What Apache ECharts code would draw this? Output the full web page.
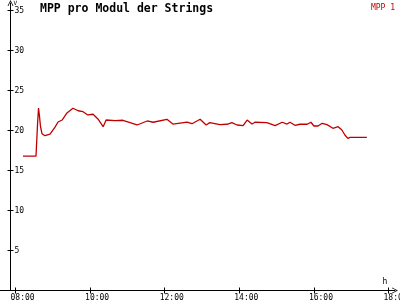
<!DOCTYPE html>
<html><head><meta charset="utf-8">
<script src="https://cdn.jsdelivr.net/npm/echarts@6/dist/echarts.min.js"></script>
<style>html,body{margin:0;padding:0;background:#fff}#c{width:400px;height:300px}</style>
</head><body><div id="c"></div>
<script>
// time in hours of day
var times = [8.20,8.55,8.568,8.59,8.617,8.643,8.67,8.71,8.79,8.925,9.06,9.14,9.25,9.38,9.54,9.68,9.81,9.94,10.08,10.21,10.35,10.43,10.67,10.88,11.26,11.53,11.69,12.06,12.22,12.60,12.73,12.95,13.11,13.21,13.48,13.67,13.80,13.94,14.10,14.21,14.34,14.42,14.74,14.96,15.15,15.28,15.36,15.49,15.63,15.82,15.92,16.00,16.11,16.22,16.35,16.51,16.65,16.75,16.83,16.91,16.97,17.42];
var mpp1 = [16.8,16.8,16.8,20.7,22.8,21.8,20.5,19.6,19.35,19.56,20.43,21.06,21.31,22.19,22.78,22.47,22.35,21.94,22.03,21.44,20.48,21.31,21.23,21.28,20.69,21.19,21.03,21.4,20.81,21.06,20.85,21.4,20.69,20.98,20.73,20.78,20.98,20.69,20.6,21.31,20.81,21.03,20.98,20.6,21.03,20.81,21.03,20.65,20.78,20.78,21.03,20.56,20.56,20.9,20.73,20.28,20.48,20.06,19.44,19.02,19.14,19.14];
var xTicks = [8,10,12,14,16,18];
var xTickLabels = ['08:00','10:00','12:00','14:00','16:00','18:00'];
var yTicks = [0,5,10,15,20,25,30,35];
var yTickLabels = [5,10,15,20,25,30,35];
var seriesName = 'MPP 1';
var titleText = 'MPP pro Modul der Strings';

var data = times.map(function(t,i){return [t, mpp1[i]];});
var chevron = 'path://M0,10 L5,0 L10,10 L8.6,10 L5,2.4 L1.4,10 Z';
var mono = 'DejaVu Sans Mono';
function xAxisDef(second){
  return {
    type:'value', min:7.5845, max:18.174, position:'bottom', offset:0,
    axisLine:{show:!second, onZero:false, lineStyle:{color:'#000',width:1}, symbol:['none',chevron], symbolSize:[7,6]},
    axisTick:{show:true, inside:second, length:3, customValues:xTicks, lineStyle:{color:'#000'}},
    axisLabel:{show:!second, customValues:xTicks, formatter:function(v){return xTickLabels[xTicks.indexOf(Math.round(v))];},
      fontFamily:mono, fontSize:8, color:'#000', align:'left', padding:[0,0,0,-5], margin:3, hideOverlap:false},
    splitLine:{show:false},
    name: second?'':'h', nameLocation:'end', nameGap:-10,
    nameTextStyle:{fontFamily:mono, fontSize:8, color:'#000', align:'center', verticalAlign:'bottom', padding:[0,0,5,0]}
  };
}
function yAxisDef(second){
  return {
    type:'value', min:0, max:35.9375, position:'left', offset:-10.5,
    axisLine:{show:!second, onZero:false, lineStyle:{color:'#000',width:1}, symbol:['none',chevron], symbolSize:[7,6]},
    axisTick:{show:true, inside:second, length:3, customValues:yTicks, lineStyle:{color:'#000'}},
    axisLabel:{show:!second, inside:true, customValues:yTickLabels, fontFamily:mono, fontSize:8, color:'#000', margin:4},
    splitLine:{show:false},
    name: second?'':'V', nameLocation:'end', nameGap:-4,
    nameTextStyle:{fontFamily:mono, fontSize:6, color:'#000', align:'left', verticalAlign:'middle', padding:[0,0,0,3]}
  };
}
var chart = echarts.init(document.getElementById('c'), null, {renderer:'canvas'});
chart.setOption({
  animation:false,
  backgroundColor:'#fff',
  title:{text:titleText, left:35, top:-2, textStyle:{fontFamily:mono, fontWeight:'bold', fontSize:11.5, color:'#000'}},
  legend:{right:0, top:-4, icon:'none', itemWidth:0, itemGap:0, textStyle:{fontFamily:mono, fontSize:8, color:'#c00000'}, data:[seriesName]},
  grid:{left:0, right:5, top:3, bottom:9.5, containLabel:false, outerBoundsMode:'none'},
  xAxis:[xAxisDef(false), xAxisDef(true)],
  yAxis:[yAxisDef(false), yAxisDef(true)],
  series:[{name:seriesName, type:'line', xAxisIndex:0, yAxisIndex:0, data:data, showSymbol:false, symbol:'none',
    lineStyle:{color:'#c00000', width:1.3}, itemStyle:{color:'#c00000'}}]
});
</script></body></html>
